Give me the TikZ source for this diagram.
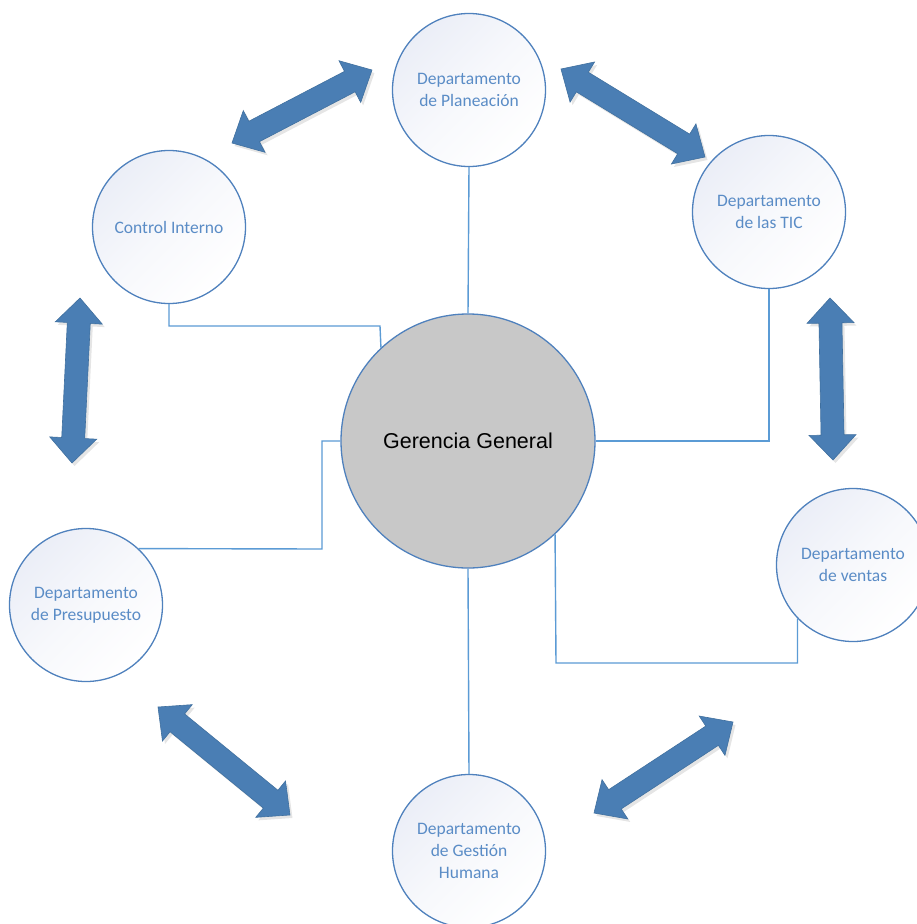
\documentclass[tikz,border=0pt]{standalone}
\usepackage{fontspec}
\setmainfont{Carlito}
\newfontfamily\arialf{Liberation Sans}
\usetikzlibrary{calc}
\definecolor{circborder}{HTML}{4F81BD}
\definecolor{linkblue}{HTML}{5B9BD5}
\definecolor{txtblue}{HTML}{5A8CC6}
\definecolor{arrfill}{HTML}{4A7EB4}
\definecolor{arrdraw}{HTML}{40709F}
\definecolor{lav}{HTML}{EBEEF7}
\definecolor{ggfill}{HTML}{C8C8C8}
\tikzset{
  dept/.style={circle, draw=circborder, line width=1.3pt, minimum size=153pt, inner sep=0pt,
    top color=lav, bottom color=white, middle color=white!60!lav, shading angle=45, text=txtblue, align=center,
    font=\fontsize{17.5}{22}\selectfont},
  gerencia/.style={circle, draw=circborder, line width=1.3pt, minimum size=254pt, inner sep=0pt,
    fill=ggfill, font=\arialf\fontsize{21.5}{26}\selectfont},
  link/.style={draw=linkblue, line width=1.4pt},
  bigarrow/.style={fill=arrfill, draw=arrdraw, line width=0.6pt, line join=miter},
  arrshadow/.style={fill=black, opacity=0.10, draw=none},
}
\newcommand\dblarr[2]{%
  \path let \p1=(#1),\p2=(#2) in \pgfextra{%
    \pgfmathsetmacro\tmpang{atan2(\y2-\y1,\x2-\x1)}%
    \pgfmathsetmacro\tmplen{veclen(\x2-\x1,\y2-\y1)}%
    \global\let\arrang\tmpang\global\let\arrlen\tmplen};
  \begin{scope}[shift={(#1)},xshift=2.5pt,yshift=-3pt,rotate=\arrang]
    \path[arrshadow] (0pt,0pt) -- (25pt,23.5pt) -- (25pt,11.5pt) -- ({\arrlen pt-25pt},11.5pt)
      -- ({\arrlen pt-25pt},23.5pt) -- ({\arrlen pt},0pt) -- ({\arrlen pt-25pt},-23.5pt)
      -- ({\arrlen pt-25pt},-11.5pt) -- (25pt,-11.5pt) -- (25pt,-23.5pt) -- cycle;
  \end{scope}
  \begin{scope}[shift={(#1)},rotate=\arrang]
    \path[bigarrow] (0pt,0pt) -- (25pt,23.5pt) -- (25pt,11.5pt) -- ({\arrlen pt-25pt},11.5pt)
      -- ({\arrlen pt-25pt},23.5pt) -- ({\arrlen pt},0pt) -- ({\arrlen pt-25pt},-23.5pt)
      -- ({\arrlen pt-25pt},-11.5pt) -- (25pt,-11.5pt) -- (25pt,-23.5pt) -- cycle;
  \end{scope}}
\begin{document}
\begin{tikzpicture}[x=1pt,y=-1pt]
\useasboundingbox (0,0) rectangle (917,924);
\clip (0,0) rectangle (917,924);
\fill[white] (0,0) rectangle (917,924);

% nodes
\node[gerencia] (gg) at (468,441) {Gerencia General};
\node[dept] (plan) at (469,90) {Departamento\\de Planeación};
\node[dept] (ci) at (169,227) {Control Interno};
\node[dept] (tic) at (769,212) {Departamento\\de las TIC};
\node[dept] (ven) at (853,565) {Departamento\\de ventas};
\node[dept] (pre) at (86,605) {Departamento\\de Presupuesto};
\node[dept] (gh) at (469,851) {Departamento\\de Gestión\\Humana};

% connector bends
\coordinate (ciK) at (380,326);
\coordinate (preK) at (322,549);
\coordinate (venK) at (556,663);

% connectors
\draw[link] (plan.south) -- (gg.north);
\draw[link] (ci.south) |- (ciK) -- (gg.133.9);
\draw[link] (pre.47.5) -- (preK) |- (gg.west);
\draw[link] (tic.south) |- (gg.east);
\draw[link] (ven.224.4) |- (venK) -- (gg.313.9);
\draw[link] (gg.south) -- (gh.north);

% arrow ends
\coordinate (a1s) at (232,143); \coordinate (a1e) at (372,70);
\coordinate (a2s) at (561,69);  \coordinate (a2e) at (705,157);
\coordinate (a3s) at (80,298);  \coordinate (a3e) at (72,463);
\coordinate (a4s) at (830,298); \coordinate (a4e) at (833,460);
\coordinate (a5s) at (158,707); \coordinate (a5e) at (290,815);
\coordinate (a6s) at (594,813); \coordinate (a6e) at (733,722);

\dblarr{a1s}{a1e}
\dblarr{a2s}{a2e}
\dblarr{a3s}{a3e}
\dblarr{a4s}{a4e}
\dblarr{a5s}{a5e}
\dblarr{a6s}{a6e}
\end{tikzpicture}
\end{document}
